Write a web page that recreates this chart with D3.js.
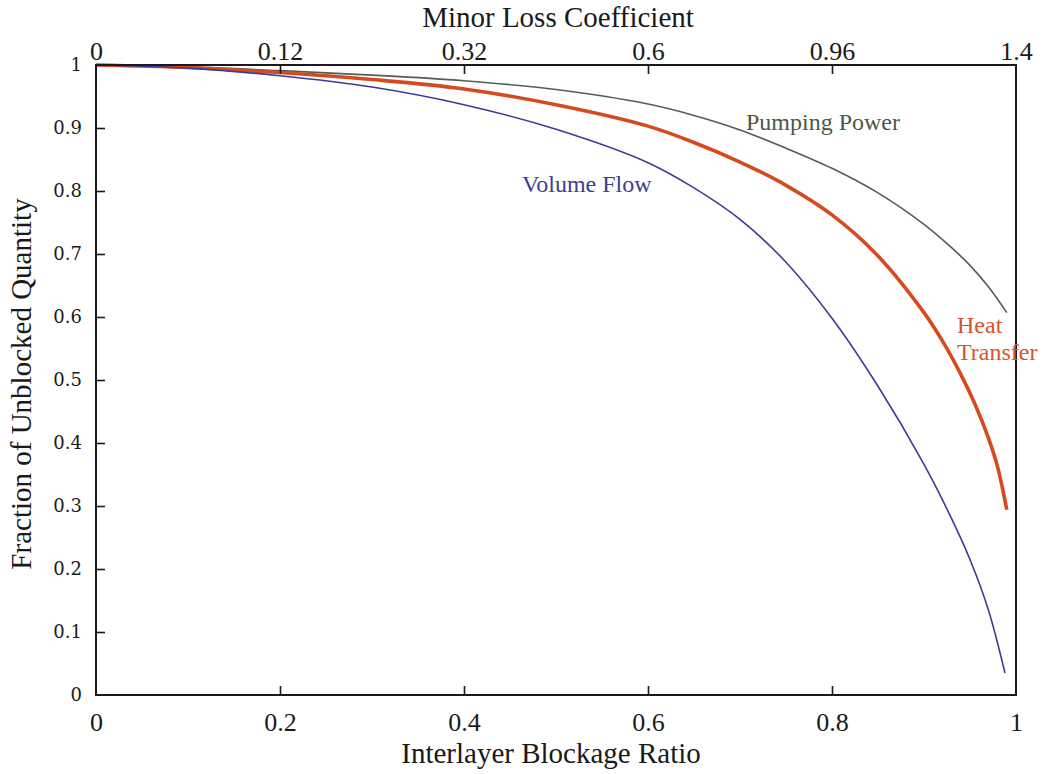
<!DOCTYPE html>
<html><head><meta charset="utf-8">
<script src="https://cdn.jsdelivr.net/npm/d3@7"></script>
<style>body{margin:0;background:#fff}</style>
</head><body>
<svg id="c" width="1044" height="774"></svg>
<script>
const ratio = [0, 0.1, 0.2, 0.3, 0.4, 0.5, 0.6, 0.65, 0.7, 0.75, 0.8, 0.85, 0.9, 0.93, 0.95, 0.97, 0.99];
const pumpingPower = [1, 0.997, 0.991, 0.984, 0.975, 0.961, 0.938, 0.92, 0.897, 0.868, 0.836, 0.797, 0.747, 0.71, 0.682, 0.648, 0.607];
const ratioHT = [0, 0.1, 0.2, 0.3, 0.4, 0.5, 0.6, 0.65, 0.7, 0.75, 0.8, 0.85, 0.9, 0.92, 0.94, 0.955, 0.97, 0.98, 0.99];
const heatTransfer = [1, 0.996, 0.988, 0.977, 0.962, 0.937, 0.903, 0.877, 0.846, 0.809, 0.762, 0.697, 0.607, 0.562, 0.509, 0.463, 0.408, 0.362, 0.294];
const ratioVF = [0, 0.1, 0.2, 0.3, 0.4, 0.5, 0.6, 0.65, 0.7, 0.75, 0.8, 0.85, 0.9, 0.93, 0.95, 0.97, 0.988];
const volumeFlow = [1, 0.995, 0.983, 0.965, 0.937, 0.898, 0.845, 0.805, 0.755, 0.687, 0.598, 0.49, 0.366, 0.28, 0.215, 0.135, 0.035];
const bottomTicks = [0, 0.2, 0.4, 0.6, 0.8, 1];
const bottomTickLabels = ["0", "0.2", "0.4", "0.6", "0.8", "1"];
const topTicks = [0, 0.2, 0.4, 0.6, 0.8, 1];
const topTickLabels = ["0", "0.12", "0.32", "0.6", "0.96", "1.4"];
const yTicks = [0, 0.1, 0.2, 0.3, 0.4, 0.5, 0.6, 0.7, 0.8, 0.9, 1];
const yTickLabels = ["0", "0.1", "0.2", "0.3", "0.4", "0.5", "0.6", "0.7", "0.8", "0.9", "1"];

(function () {
const L = 96, R = 1016, T = 65, B = 695;
const svg = d3.select("#c");
const x = d3.scaleLinear().domain([0, 1]).range([L, R]);
const y = d3.scaleLinear().domain([0, 1]).range([B, T]);
const serif = "'Liberation Serif', 'DejaVu Serif', serif";

const line = (xs) => d3.line().x((d, i) => x(xs[i])).y(d => y(d)).curve(d3.curveCatmullRom.alpha(0.5));
svg.append("path").attr("d", line(ratio)(pumpingPower)).attr("fill", "none").attr("stroke", "#525e54").attr("stroke-width", 1.6);
svg.append("path").attr("d", line(ratioHT)(heatTransfer)).attr("fill", "none").attr("stroke", "#d64a20").attr("stroke-width", 3.6);
svg.append("path").attr("d", line(ratioVF)(volumeFlow)).attr("fill", "none").attr("stroke", "#3b3c98").attr("stroke-width", 1.6);

svg.append("rect").attr("x", L).attr("y", T).attr("width", R - L).attr("height", B - T)
  .attr("fill", "none").attr("stroke", "#1a1a1a").attr("stroke-width", 2);

const bottomAxis = d3.axisBottom(x).tickValues(bottomTicks).tickFormat((d, i) => bottomTickLabels[i]).tickSizeInner(-9).tickSizeOuter(0).tickPadding(18);
const gb = svg.append("g").attr("transform", `translate(0,${B})`).call(bottomAxis);
const topAxis = d3.axisTop(x).tickValues(topTicks).tickFormat((d, i) => topTickLabels[i]).tickSizeInner(-9).tickSizeOuter(0).tickPadding(5);
const gt = svg.append("g").attr("transform", `translate(0,${T})`).call(topAxis);
const leftAxis = d3.axisLeft(y).tickValues(yTicks).tickFormat((d, i) => yTickLabels[i]).tickSizeInner(-9).tickSizeOuter(0).tickPadding(14);
const gl = svg.append("g").attr("transform", `translate(${L},0)`).call(leftAxis);
[gb, gt, gl].forEach(g => {
  g.select(".domain").remove();
  g.selectAll(".tick line").attr("stroke", "#1a1a1a").attr("stroke-width", 1.6);
  g.selectAll(".tick text").attr("font-family", serif).attr("font-size", 26).attr("fill", "#1a1a1a");
  g.selectAll(".tick line").filter(d => d === 0 || d === 1).remove();
});
gl.selectAll(".tick text").attr("font-family", "'DejaVu Serif', serif").attr("font-size", 18);

svg.append("text").attr("x", 558).attr("y", 27).attr("text-anchor", "middle").attr("font-family", serif).attr("font-size", 29).attr("fill", "#1a1a1a").text("Minor Loss Coefficient");
svg.append("text").attr("x", 551).attr("y", 763).attr("text-anchor", "middle").attr("font-family", serif).attr("font-size", 29).attr("fill", "#1a1a1a").text("Interlayer Blockage Ratio");
svg.append("text").attr("transform", "translate(31,384) rotate(-90)").attr("text-anchor", "middle").attr("font-family", serif).attr("font-size", 29).attr("fill", "#1a1a1a").text("Fraction of Unblocked Quantity");

svg.append("text").attr("x", 746).attr("y", 130).attr("font-family", serif).attr("font-size", 24).attr("fill", "#4a5848").text("Pumping Power");
svg.append("text").attr("x", 522).attr("y", 192).attr("font-family", serif).attr("font-size", 24).attr("fill", "#3d3f90").text("Volume Flow");
svg.append("text").attr("x", 957).attr("y", 333).attr("font-family", serif).attr("font-size", 24).attr("fill", "#d9542e").text("Heat");
svg.append("text").attr("x", 957).attr("y", 360).attr("font-family", serif).attr("font-size", 24).attr("fill", "#d9542e").text("Transfer");
})();
</script>
</body></html>
